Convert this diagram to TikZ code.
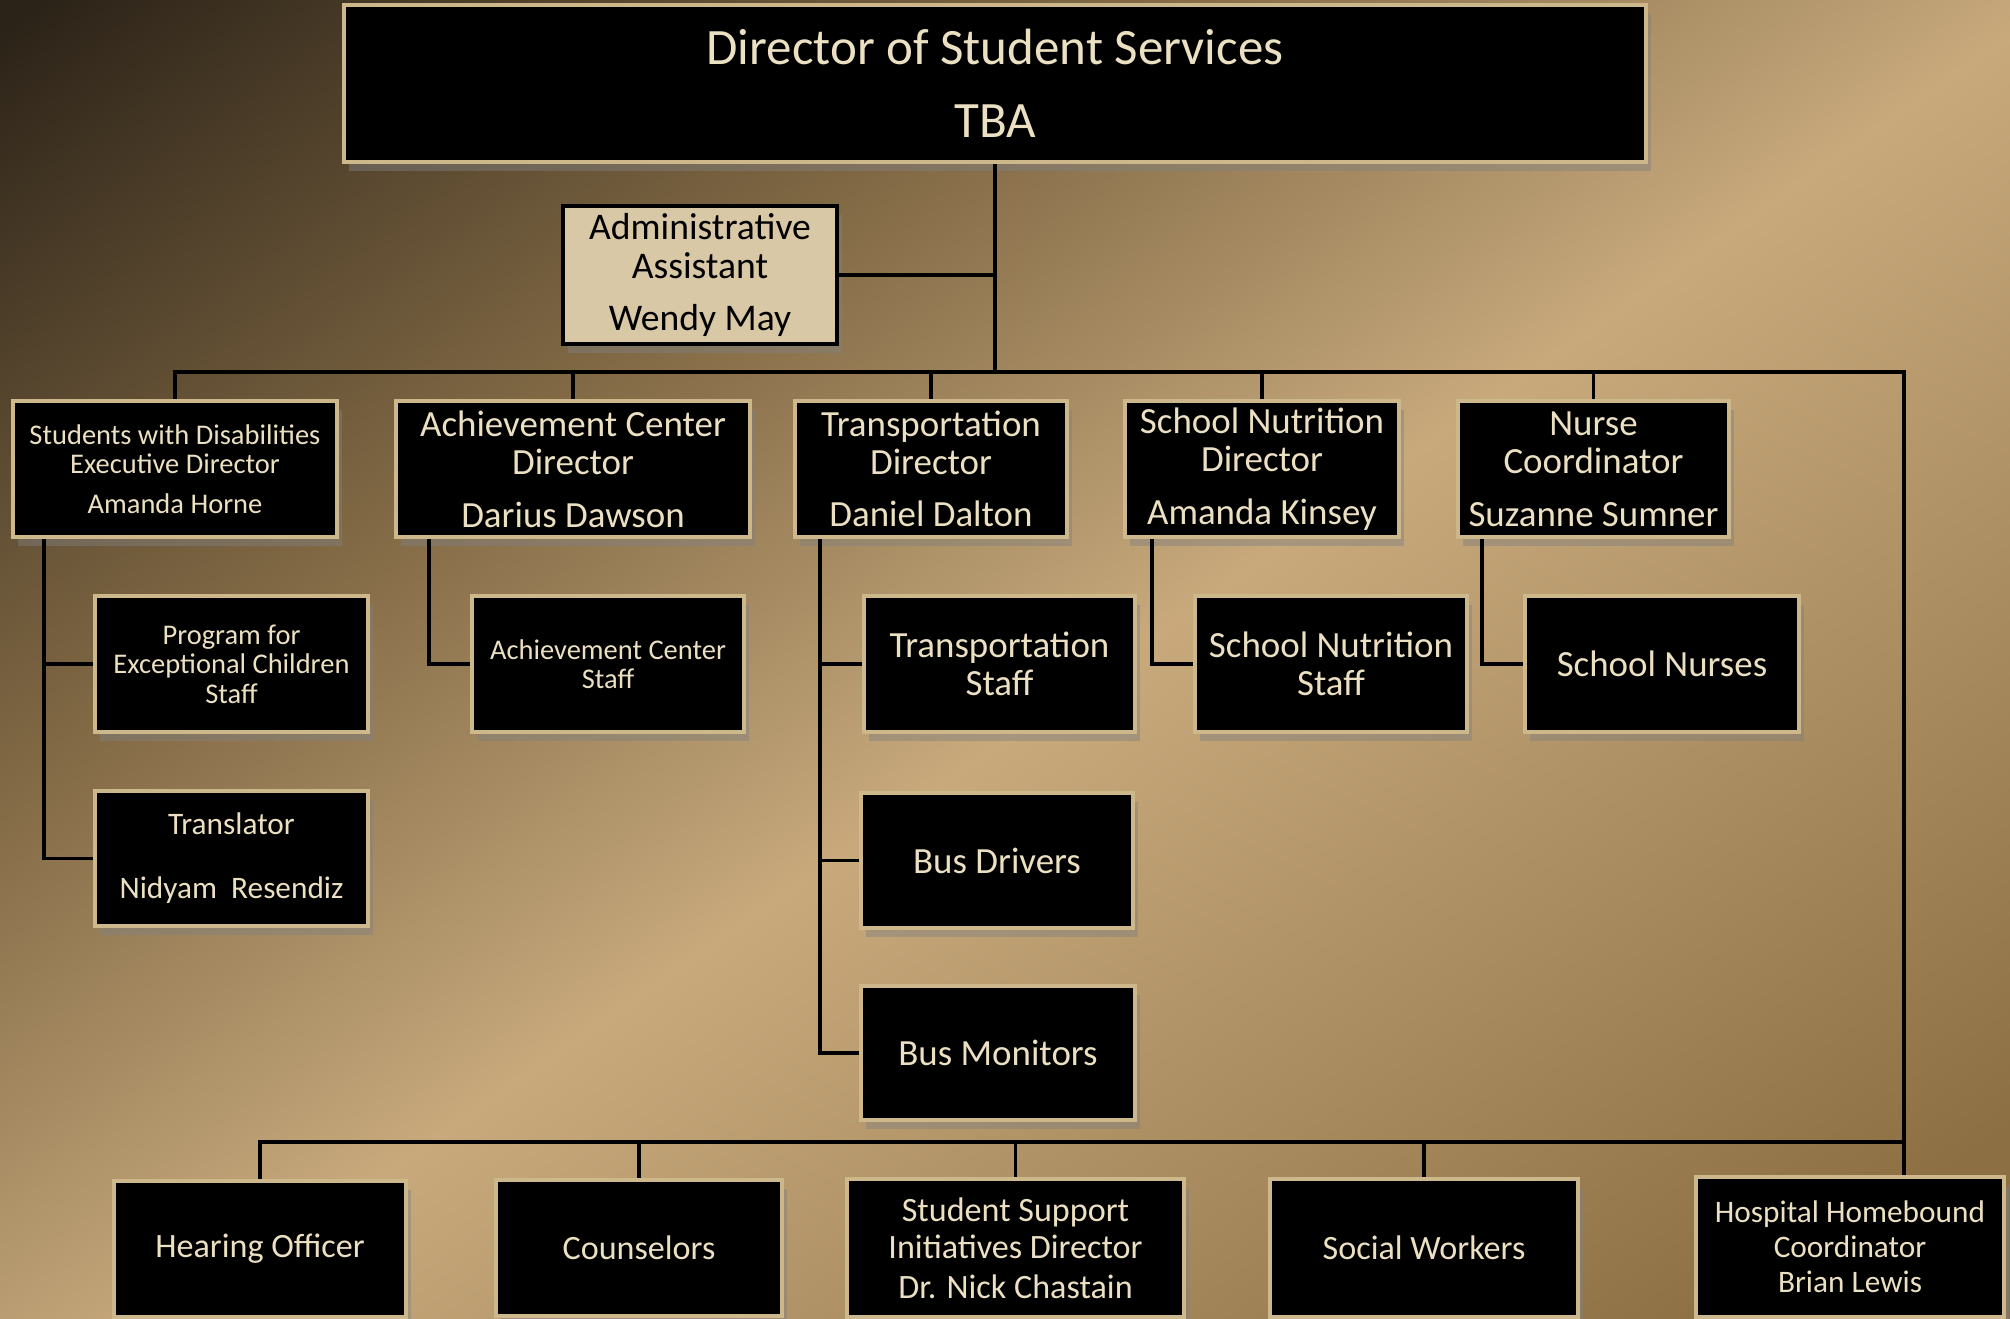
\documentclass[tikz,border=0pt]{standalone}
\usepackage{fontspec}
\setmainfont{Carlito}
\usetikzlibrary{shadows}
\definecolor{bgdark}{RGB}{44,35,24}
\definecolor{bgmid}{RGB}{128,104,68}
\definecolor{bglight}{RGB}{199,169,124}
\definecolor{bgend}{RGB}{140,112,68}
\definecolor{boxline}{RGB}{205,184,140}
\definecolor{cream}{RGB}{236,224,194}
\definecolor{paper}{RGB}{217,200,166}
\pgfdeclarehorizontalshading{bgwash}{100bp}{color(0bp)=(bgdark); color(16bp)=(bgdark); color(35bp)=(bgmid); color(52bp)=(bglight); color(80bp)=(bgend); color(100bp)=(bgend)}
\tikzset{
  post/.style={draw=boxline, line width=1.2pt, fill=black, text=cream, align=center,
    inner sep=1pt, drop shadow={shadow xshift=1.5pt, shadow yshift=-2.5pt, opacity=0.45}},
  link/.style={line width=1.05pt, draw=black},
  big/.style={font=\fontsize{10.5}{10.8}\selectfont},
  mid/.style={font=\fontsize{8.9}{10.2}\selectfont},
  small/.style={font=\fontsize{8.1}{8.4}\selectfont},
  low/.style={font=\fontsize{9.7}{10.5}\selectfont}
}
\begin{document}
\begin{tikzpicture}[x=0.01cm,y=-0.01cm]
%%% BACKGROUND %%%
\useasboundingbox (0,0) rectangle (2010,1319);
\shade[shading=bgwash,shading angle=-55] (0,0) rectangle (2010,1319);

%%% TOP %%%
\node[post,minimum width=13.01cm,minimum height=1.57cm,font=\fontsize{14.5}{15.6}\selectfont]
  (DSS) at (995,83.5) {Director of Student Services\\[5.2pt]TBA};
\node[post,fill=paper,draw=black,text=black,minimum width=2.74cm,minimum height=1.38cm,
  font=\fontsize{10.7}{11.2}\selectfont]
  (AA) at (700,275) {Administrative\\Assistant\\[3.6pt]Wendy May};

%%% DIRECTORS %%%
\node[post,small,minimum width=3.24cm,minimum height=1.36cm] (SWD) at (175,469)
  {Students with Disabilities\\Executive Director\\[2.9pt]Amanda Horne};
\node[post,big,minimum width=3.54cm,minimum height=1.36cm] (ACD) at (573,469)
  {Achievement Center\\Director\\[4.2pt]Darius Dawson};
\node[post,big,minimum width=2.72cm,minimum height=1.36cm] (TD) at (931,469)
  {Transportation\\Director\\[4.2pt]Daniel Dalton};
\node[post,big,minimum width=2.74cm,minimum height=1.36cm] (SND) at (1262,469)
  {School Nutrition\\Director\\[4.2pt]Amanda Kinsey};
\node[post,big,minimum width=2.71cm,minimum height=1.36cm] (NC) at (1593.5,469)
  {Nurse\\Coordinator\\[4.2pt]Suzanne Sumner};

%%% STAFF %%%
\node[post,small,minimum width=2.73cm,minimum height=1.36cm] (PEC) at (231.5,664)
  {Program for\\Exceptional Children\\Staff};
\node[post,small,minimum width=2.72cm,minimum height=1.36cm] (ACS) at (608,664)
  {Achievement Center\\Staff};
\node[post,big,minimum width=2.71cm,minimum height=1.36cm] (TS) at (999.5,664)
  {Transportation\\Staff};
\node[post,big,minimum width=2.72cm,minimum height=1.36cm] (SNS) at (1331,664)
  {School Nutrition\\Staff};
\node[post,big,minimum width=2.74cm,minimum height=1.36cm] (SN) at (1662,664)
  {School Nurses};
\node[post,mid,minimum width=2.73cm,minimum height=1.35cm] (TR) at (231.5,858.5)
  {Translator\\[8pt]Nidyam~~Resendiz};
\node[post,big,minimum width=2.72cm,minimum height=1.35cm] (BD) at (997,860.5)
  {Bus Drivers};
\node[post,big,minimum width=2.74cm,minimum height=1.34cm] (BM) at (998,1053)
  {Bus Monitors};

%%% BOTTOM ROW %%%
\node[post,low,minimum width=2.92cm,minimum height=1.36cm] (HO) at (260,1249) {Hearing Officer};
\node[post,low,minimum width=2.86cm,minimum height=1.36cm] (CO) at (639,1248) {Counselors};
\node[post,low,minimum width=3.37cm,minimum height=1.38cm] (SSI) at (1015.5,1248)
  {Student Support\\Initiatives Director\\[0.9pt]Dr. Nick Chastain};
\node[post,low,minimum width=3.08cm,minimum height=1.38cm] (SW) at (1424,1248) {Social Workers};
\node[post,minimum width=3.08cm,minimum height=1.40cm,font=\fontsize{8.9}{10}\selectfont]
  (HH) at (1850,1247) {Hospital Homebound\\Coordinator\\Brian Lewis};

%%% CONNECTORS %%%
\coordinate (B) at (995,372); % upper bus
\coordinate (E) at (1904,372); % upper bus, right end
\coordinate (L) at (1904,1142); % lower bus, right end
\draw[link] (DSS) -- (B);
\draw[link] (AA.east) -- (AA.east -| B);
\draw[link] (SWD.north) |- (E) -- (E |- HH.north);
\foreach \n in {ACD,TD,SND,NC}
  \draw[link] (\n.north) -- (\n.north |- B);
\draw[link] (HO.north) |- (L);
\foreach \n in {CO,SSI,SW}
  \draw[link] (\n.north) -- (\n.north |- L);

% side stems
\coordinate (S1) at ([xshift=0.33cm]SWD.south west);
\coordinate (S2) at ([xshift=0.35cm]ACD.south west);
\coordinate (S3) at ([xshift=0.27cm]TD.south west);
\coordinate (S4) at ([xshift=0.29cm]SND.south west);
\coordinate (S5) at ([xshift=0.26cm]NC.south west);
\draw[link] (S1) |- (TR.west);
\draw[link] (PEC.west) -- (PEC.west -| S1);
\draw[link] (S2) |- (ACS.west);
\draw[link] (S3) |- (BM.west);
\draw[link] (TS.west) -- (TS.west -| S3);
\draw[link] (BD.west) -- (BD.west -| S3);
\draw[link] (S4) |- (SNS.west);
\draw[link] (S5) |- (SN.west);
\end{tikzpicture}
\end{document}
